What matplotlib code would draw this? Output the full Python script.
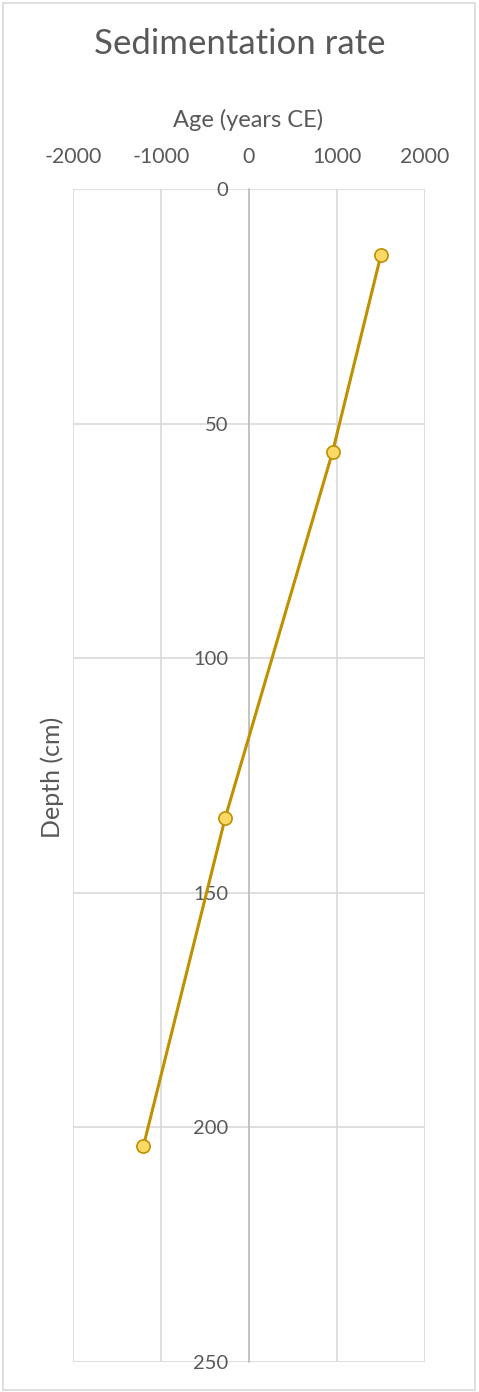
import matplotlib
matplotlib.use("Agg")
import matplotlib.pyplot as plt
from matplotlib.patches import Rectangle

# Age-depth points of the core
age_ce = [1500, 950, -270, -1200]
depth_cm = [14, 56, 134, 204]

x_ticks = [-2000, -1000, 0, 1000, 2000]
y_ticks = [0, 50, 100, 150, 200, 250]

plt.rcParams["font.family"] = ["Lato", "DejaVu Sans"]
plt.rcParams["axes.unicode_minus"] = False
TEXT = "#595959"
GRID = "#D9D9D9"
LINE = "#BF9000"
FACE = "#FFD966"

W, H = 479, 1392
fig = plt.figure(figsize=(W / 100, H / 100), dpi=100)

# chart-area border
fig.patches.append(Rectangle((3 / W, 2 / H), (W - 7) / W, (H - 5) / H,
                             transform=fig.transFigure, fill=False,
                             edgecolor=GRID, linewidth=1.2))

left, right = 73 / W, 425 / W
top, bottom = 1 - 189 / H, 1 - 1362 / H
ax = fig.add_axes([left, bottom, right - left, top - bottom])

ax.plot(age_ce, depth_cm, color=LINE, linewidth=2.2, marker="o",
        markersize=9.5, markerfacecolor=FACE, markeredgecolor=LINE,
        markeredgewidth=1.2, zorder=3)

ax.set_xlim(-2000, 2000)
ax.set_ylim(250, 0)
ax.set_xticks(x_ticks)
ax.set_yticks(y_ticks)

ax.grid(True, color=GRID, linewidth=1.2)
ax.set_axisbelow(True)

for s in ("top", "right", "bottom"):
    ax.spines[s].set_visible(False)
ax.spines["left"].set_position(("data", 0))
ax.spines["left"].set_color("#BFBFBF")
ax.spines["left"].set_linewidth(1.2)

ax.xaxis.tick_top()
ax.tick_params(axis="x", length=0, pad=16, labelsize=15.3, labelcolor=TEXT)
ax.tick_params(axis="y", length=0, pad=15, labelsize=14.5, labelcolor=TEXT)

fig.text(0.5, 1 - 44 / H, "Sedimentation rate", ha="center", va="center",
         fontsize=25, color=TEXT)
fig.text(248 / W, 1 - 120 / H, "Age (years CE)", ha="center", va="center",
         fontsize=17, color=TEXT)
fig.text(52 / W, 1 - 777 / H, "Depth (cm)", ha="center", va="center",
         rotation=90, fontsize=18, color=TEXT)

fig.savefig("out.png", dpi=100, facecolor="white")
